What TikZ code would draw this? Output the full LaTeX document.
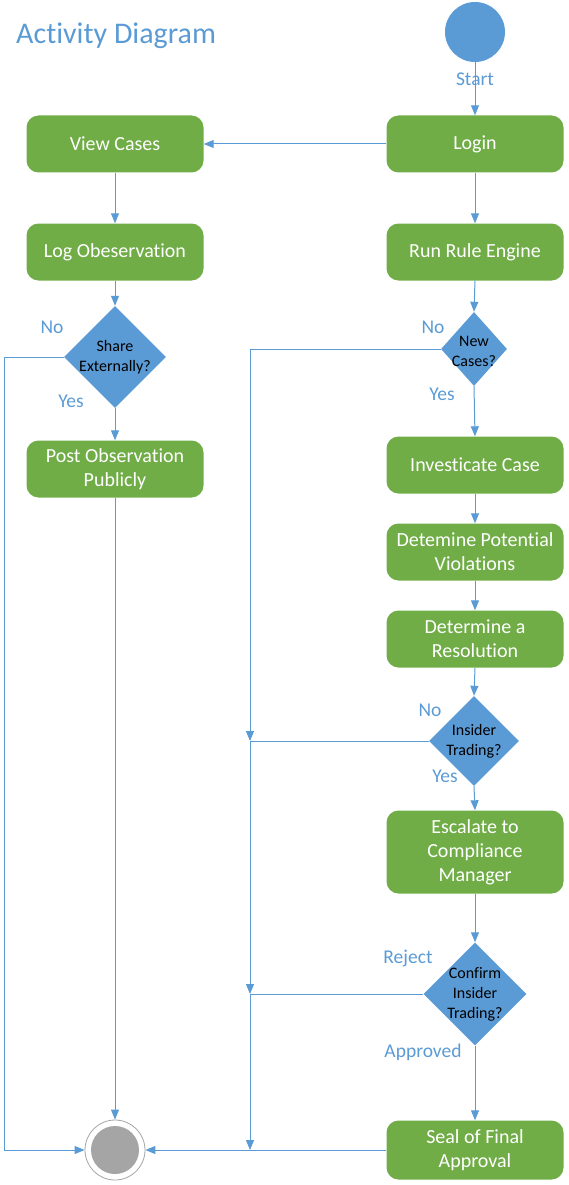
\documentclass[tikz,border=0pt]{standalone}
\usepackage{fontspec}
\setmainfont{Carlito}[Ligatures=NoCommon]
\usetikzlibrary{shapes.geometric,arrows.meta}
\definecolor{actgreen}{HTML}{70AD47}
\definecolor{actblue}{HTML}{5B9BD5}
\definecolor{endgray}{HTML}{A5A5A5}

\begin{document}
\begin{tikzpicture}[x=1pt, y=-1pt,
    action/.style={rectangle, rounded corners=12pt, fill=actgreen, text=white, minimum width=177pt, minimum height=57pt, align=center, inner sep=2pt, font=\fontsize{20}{24}\selectfont},
    decision/.style={diamond, fill=actblue, inner sep=0pt, minimum width=#1, minimum height=#1},
    dtext/.style={align=center, text=black, inner sep=0pt, font=\fontsize{16}{20}\selectfont},
    guard/.style={text=actblue, inner sep=0pt, font=\fontsize{19.5}{22}\selectfont},
    flow/.style={draw=actblue, line width=1pt, -{Triangle[length=10pt,width=8pt]}},
    link/.style={draw=actblue, line width=1pt}]
    \useasboundingbox (0,0) rectangle (569,1185);

    \node [guard, anchor=west, font=\fontsize{30}{32}\selectfont] (title) at (16,36) {Activity Diagram};

    % start and end
    \node [circle, fill=actblue, minimum size=60pt, inner sep=0pt] (start) at (475,32) {};
    \node [circle, draw=endgray, fill=white, line width=0.8pt, minimum size=60pt, inner sep=0pt] (end) at (115,1150) {};
    \fill [endgray] (end) circle (24);

    % left column
    \node [action] (view) at (115,144) {View Cases};
    \node [action] (logobs) at (115,252) {Log Obeservation};
    \node [decision=102pt] (share) at (115,357) {};
    \node [dtext] at (share) {Share\\Externally?};
    \node [action] (post) at (115,469) {Post Observation\\Publicly};

    % right column
    \node [action] (login) at (475,144) {Login};
    \node [action] (rule) at (475,252) {Run Rule Engine};
    \node [decision=74pt, minimum width=66pt] (newc) at (474,349) {};
    \node [dtext] at (474,351) {New\\Cases?};
    \node [action] (inv) at (475,465) {Investicate Case};
    \node [action] (viol) at (475,552) {Detemine Potential\\Violations};
    \node [action] (res) at (475,639) {Determine a\\Resolution};
    \node [decision=90pt] (ins) at (474,741) {};
    \node [dtext] at (ins) {Insider\\Trading?};
    \node [action, minimum height=83pt] (esc) at (475,852) {Escalate to\\Compliance\\Manager};
    \node [decision=103pt] (conf) at (475,994) {};
    \node [dtext] at (conf) {Confirm\\Insider\\Trading?};
    \node [action, minimum height=59pt] (seal) at (475,1150) {Seal of Final\\Approval};

    \coordinate (lc) at (4,1150);
    \coordinate (j1) at (250,741);
    \coordinate (j2) at (250,994);
    \coordinate (j3) at (250,1150);

    % connectors
    \draw [flow] (start) -- node [guard, pos=0.33] {Start} (login);
    \draw [flow] (login) -- (view);
    \draw [flow] (view) -- (logobs);
    \draw [flow] (logobs) -- (share);
    \draw [flow] (share) -- (post);
    \draw [flow] (share.west) -| (lc) -- (end.west);
    \draw [flow] (post) -- (end);
    \draw [flow] (login) -- (rule);
    \draw [flow] (rule.south) -- (newc.north);
    \draw [flow] (newc.south) -- (inv.north);
    \draw [flow] (newc.west) -| (j1);
    \draw [flow] (inv) -- (viol);
    \draw [flow] (viol) -- (res);
    \draw [flow] (res.south) -- (ins.north);
    \draw [flow] (ins.south) -- (esc.north);
    \draw [link] (ins.west) -- (j1);
    \draw [flow] (j1) -- (j2);
    \draw [flow] (esc) -- (conf);
    \draw [link] (conf.west) -- (j2);
    \draw [flow] (j2) -- (j3);
    \draw [flow] (conf) -- (seal);
    \draw [flow] (seal) -- (end);

    % guards
    \node [guard] at (52,327) {No};
    \node [guard] at (71,401) {Yes};
    \node [guard] at (433,327) {No};
    \node [guard] at (442,394) {Yes};
    \node [guard] at (430,710) {No};
    \node [guard] at (445,776) {Yes};
    \node [guard] at (408,958) {Reject};
    \node [guard] at (423,1052) {Approved};
\end{tikzpicture}
\end{document}
